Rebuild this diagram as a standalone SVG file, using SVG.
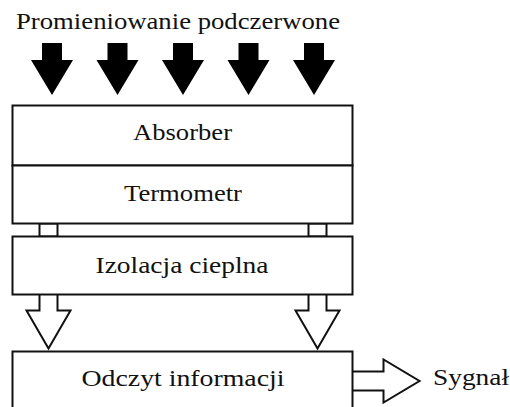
<svg xmlns="http://www.w3.org/2000/svg" width="510" height="407" viewBox="0 0 510 407">
<style>
text{font-family:"Liberation Serif","Times New Roman",serif;font-size:23px;fill:#111}
.box{fill:#fff;stroke:#111;stroke-width:2}
.solid{fill:#000;stroke:none}
.hollow{fill:#fff;stroke:#111;stroke-width:2;stroke-linejoin:miter}
</style>
<rect width="510" height="407" fill="#fff"/>
<text x="16" y="29" textLength="324" lengthAdjust="spacingAndGlyphs">Promieniowanie podczerwone</text>
<g id="ir-arrows">
<path class="solid" d="M42,43 H62 V60 H73 L52,95 L31,60 H42 Z"/>
<path class="solid" d="M107.5,43 H127.5 V60 H138.5 L117.5,95 L96.5,60 H107.5 Z"/>
<path class="solid" d="M173,43 H193 V60 H204 L183,95 L162,60 H173 Z"/>
<path class="solid" d="M238.5,43 H258.5 V60 H269.5 L248.5,95 L227.5,60 H238.5 Z"/>
<path class="solid" d="M304,43 H324 V60 H335 L314,95 L293,60 H304 Z"/>
</g>
<g id="connectors">
<rect class="box" x="39.5" y="223.5" width="18" height="13"/>
<rect class="box" x="308.5" y="223.5" width="18" height="13"/>
<path class="hollow" d="M39.5,294.5 V310.5 H26.5 L48.5,348.5 L70.5,310.5 H57.5 V294.5"/>
<path class="hollow" d="M308.5,294.5 V310.5 H295.5 L317.5,348.5 L339.5,310.5 H326.5 V294.5"/>
<path class="hollow" d="M352.5,371.5 H383.5 V359.5 L419.5,381 L383.5,402.5 V390.5 H352.5"/>
</g>
<g id="absorber">
<rect class="box" x="12.5" y="105.5" width="340" height="60"/>
<text x="182.5" y="140" text-anchor="middle" textLength="99" lengthAdjust="spacingAndGlyphs">Absorber</text>
</g>
<g id="termometr">
<rect class="box" x="12.5" y="165.5" width="340" height="58"/>
<text x="183" y="201" text-anchor="middle" textLength="118" lengthAdjust="spacingAndGlyphs">Termometr</text>
</g>
<g id="izolacja">
<rect class="box" x="12.5" y="236.5" width="340" height="58"/>
<text x="182" y="273" text-anchor="middle" textLength="173" lengthAdjust="spacingAndGlyphs">Izolacja cieplna</text>
</g>
<g id="odczyt">
<rect class="box" x="12.5" y="351.5" width="340" height="70"/>
<text x="183" y="386" text-anchor="middle" textLength="203" lengthAdjust="spacingAndGlyphs">Odczyt informacji</text>
</g>
<g id="sygnal">
<text x="433" y="385" textLength="76" lengthAdjust="spacingAndGlyphs">Sygnał</text>
</g>
</svg>
